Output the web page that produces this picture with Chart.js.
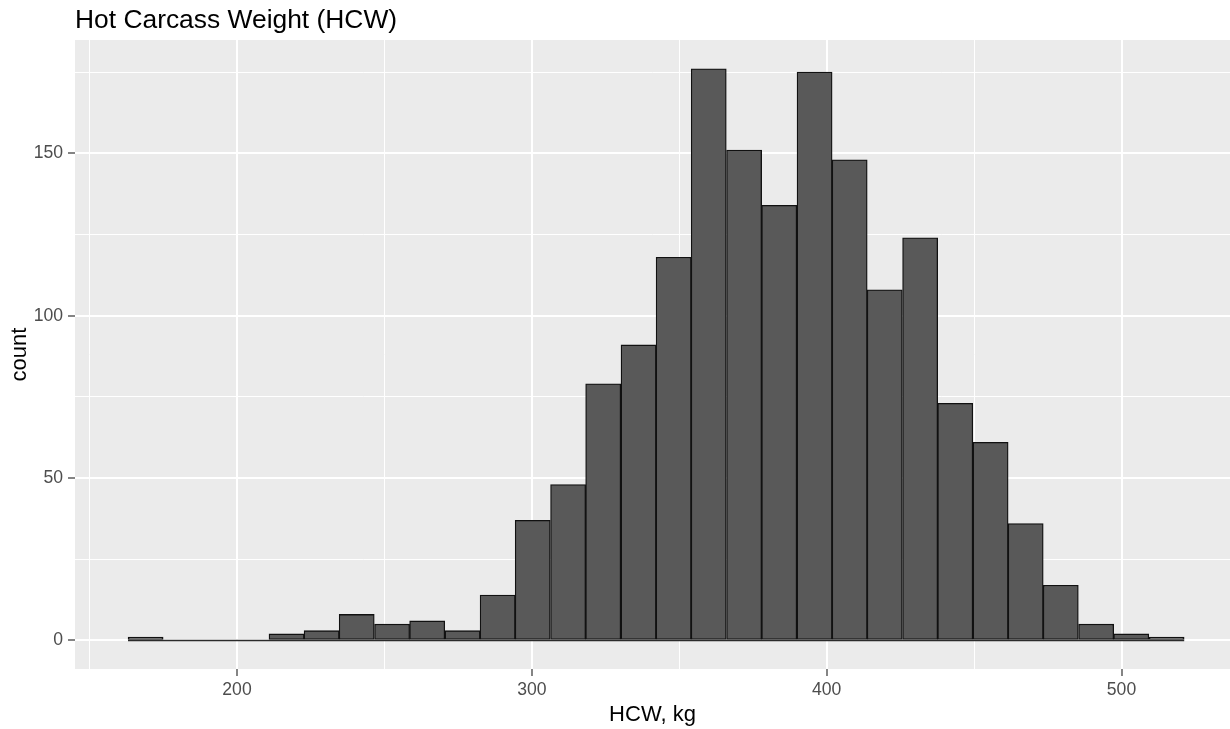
<!DOCTYPE html>
<html>
<head>
<meta charset="utf-8">
<title>Hot Carcass Weight (HCW)</title>
<script src="https://cdn.jsdelivr.net/npm/chart.js@4"></script>
<style>
    html, body { margin: 0; padding: 0; background: #ffffff; }
    #wrap { width: 1230px; height: 729px; }
</style>
</head>
<body>
<div id="wrap"><canvas id="hcwChart" width="1230" height="729"></canvas></div>
<script>
// histogram data (30 bins)
const binCenters = [169.0, 180.9, 192.9, 204.8, 216.8, 228.7, 240.6, 252.6, 264.5, 276.5,
                    288.4, 300.3, 312.3, 324.2, 336.2, 348.1, 360.0, 372.0, 383.9, 395.9,
                    407.8, 419.7, 431.7, 443.6, 455.6, 467.5, 479.4, 491.4, 503.3, 515.3];
const counts = [1, 0, 0, 0, 2, 3, 8, 5, 6, 3,
                14, 37, 48, 79, 91, 118, 176, 151, 134, 175,
                148, 108, 124, 73, 61, 36, 17, 5, 2, 1];
const binWidth = 11.94;
const xLabels = [200, 300, 400, 500];
const yLabels = [0, 50, 100, 150];
const xRange = [145.05, 536.8];
const yRange = [-8.8, 184.9];

const fontFamily = '"Liberation Sans", Arial, sans-serif';

// panel background
const panelBg = {
    id: 'panelBg',
    beforeDraw(chart) {
        const a = chart.chartArea;
        const ctx = chart.ctx;
        ctx.save();
        ctx.fillStyle = '#EBEBEB';
        ctx.fillRect(a.left, a.top, a.right - a.left, a.bottom - a.top);
        ctx.restore();
    }
};

// title placed at panel left like ggplot
const plotTitle = {
    id: 'plotTitle',
    afterDraw(chart) {
        const ctx = chart.ctx;
        ctx.save();
        ctx.font = '26.4px ' + fontFamily;
        ctx.fillStyle = '#000000';
        ctx.textBaseline = 'middle';
        ctx.textAlign = 'left';
        ctx.fillText('Hot Carcass Weight (HCW)', chart.chartArea.left, 21);
        ctx.restore();
    }
};

const isMajor = (c, list) => !!(c.tick && list.some(m => Math.abs(m - c.tick.value) < 1e-6));

const ctx = document.getElementById('hcwChart').getContext('2d');
new Chart(ctx, {
    data: {
        datasets: [{
            type: 'bar',
            data: binCenters.map((c, i) => ({ x: c, y: counts[i] })),
            backgroundColor: '#595959',
            borderColor: '#111111',
            borderWidth: 1.3,
            borderSkipped: false,
            barPercentage: 1,
            categoryPercentage: 1,
            order: 1
        }, {
            // baseline for empty bins
            type: 'line',
            data: [{ x: binCenters[0] - binWidth / 2, y: 0 }, { x: binCenters[binCenters.length - 1] + binWidth / 2, y: 0 }],
            borderColor: '#2a2a2a',
            borderWidth: 1.5,
            pointRadius: 0,
            order: 2
        }]
    },
    options: {
        responsive: false,
        animation: false,
        layout: { padding: { top: 40, left: 0, right: 0, bottom: 0 } },
        plugins: {
            legend: { display: false },
            tooltip: { enabled: false },
            title: { display: false }
        },
        scales: {
            x: {
                type: 'linear',
                min: xRange[0],
                max: xRange[1],
                offset: false,
                afterFit(scale) { scale.height = 60; },
                border: { display: false },
                grid: {
                    offset: false,
                    color: '#FFFFFF',
                    lineWidth: c => isMajor(c, xLabels) ? 2 : 1,
                    tickColor: c => isMajor(c, xLabels) ? '#333333' : 'rgba(0,0,0,0)',
                    tickLength: 7,
                    tickWidth: 1.2
                },
                ticks: {
                    stepSize: 50,
                    includeBounds: false,
                    autoSkip: false,
                    maxRotation: 0,
                    padding: 4,
                    color: '#4D4D4D',
                    font: { family: fontFamily, size: 17.6 },
                    callback: v => xLabels.includes(v) ? String(v) : ''
                },
                title: {
                    display: true,
                    text: 'HCW, kg',
                    color: '#000000',
                    font: { family: fontFamily, size: 22 },
                    padding: { top: 0, bottom: 1 }
                }
            },
            y: {
                type: 'linear',
                min: yRange[0],
                max: yRange[1],
                afterFit(scale) { scale.width = 75; },
                border: { display: false },
                grid: {
                    color: '#FFFFFF',
                    lineWidth: c => isMajor(c, yLabels) ? 2 : 1,
                    tickColor: c => isMajor(c, yLabels) ? '#333333' : 'rgba(0,0,0,0)',
                    tickLength: 7,
                    tickWidth: 1.2
                },
                ticks: {
                    stepSize: 25,
                    includeBounds: false,
                    autoSkip: false,
                    padding: 5,
                    color: '#4D4D4D',
                    font: { family: fontFamily, size: 17.6 },
                    callback: v => yLabels.includes(v) ? String(v) : ''
                },
                title: {
                    display: true,
                    text: 'count',
                    color: '#000000',
                    font: { family: fontFamily, size: 22 },
                    padding: { top: 7, bottom: 0 }
                }
            }
        }
    },
    plugins: [panelBg, plotTitle]
});
</script>
</body>
</html>
